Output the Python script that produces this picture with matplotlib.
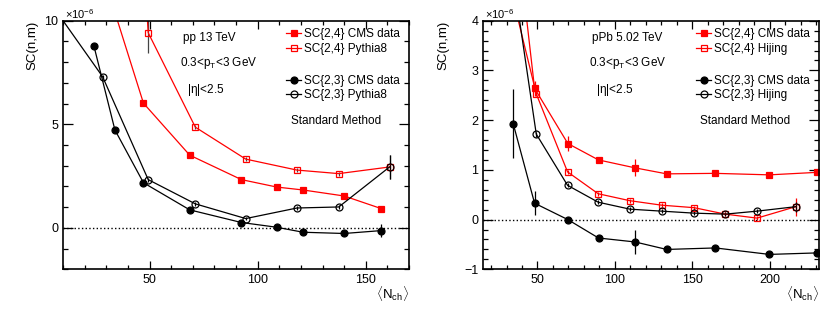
import matplotlib
matplotlib.use("Agg")
import matplotlib.pyplot as plt
from matplotlib.ticker import MultipleLocator

plt.rcParams['font.family'] = ['Liberation Sans', 'DejaVu Sans']
plt.rcParams['mathtext.fontset'] = 'custom'
plt.rcParams['mathtext.rm'] = 'Liberation Sans'
plt.rcParams['mathtext.it'] = 'Liberation Sans'
plt.rcParams['mathtext.bf'] = 'Liberation Sans'

# ---- pp 13 TeV (values in units of 1e-6) ----
pp_x_cms = [24.3, 34.0, 47.2, 68.6, 92.5, 108.9, 121.0, 140.0, 157.2]
pp_sc24_cms = [20.0, 10.4, 6.02, 3.51, 2.33, 1.97, 1.83, 1.54, 0.93]
pp_sc24_cms_err = [0.3, 0.2, 0.1, 0.08, 0.07, 0.07, 0.08, 0.1, 0.12]
pp_sc23_cms = [8.78, 4.73, 2.18, 0.87, 0.26, 0.03, -0.21, -0.27, -0.13]
pp_sc23_cms_err = [0.1, 0.1, 0.08, 0.06, 0.06, 0.07, 0.08, 0.1, 0.32]
pp_x_pythia = [8.0, 28.3, 49.4, 71.2, 94.5, 118.2, 137.5, 161.0]
pp_sc24_pythia = [90.0, 45.0, 9.42, 4.86, 3.32, 2.79, 2.62, 2.94]
pp_sc24_pythia_err = [1.0, 2.0, 1.0, 0.1, 0.1, 0.1, 0.1, 0.6]
pp_sc23_pythia = [10.3, 7.3, 2.33, 1.16, 0.45, 0.96, 1.01, 2.94]
pp_sc23_pythia_err = [0.1, 0.1, 0.1, 0.08, 0.08, 0.1, 0.1, 0.6]

# ---- pPb 5.02 TeV ----
ppb_x_cms = [34.3, 48.1, 69.6, 89.4, 113.1, 133.4, 164.9, 199.8, 230.4]
ppb_sc24_cms = [6.4, 2.64, 1.53, 1.20, 1.04, 0.92, 0.93, 0.90, 0.95]
ppb_sc24_cms_err = [0.3, 0.15, 0.15, 0.05, 0.17, 0.04, 0.04, 0.04, 0.04]
ppb_sc23_cms = [1.93, 0.33, 0.0, -0.37, -0.45, -0.60, -0.57, -0.70, -0.67]
ppb_sc23_cms_err = [0.7, 0.24, 0.04, 0.04, 0.24, 0.04, 0.04, 0.04, 0.04]
ppb_x_hijing = [29.0, 49.2, 69.4, 89.2, 109.7, 130.2, 151.1, 171.3, 191.8, 216.8]
ppb_sc24_hijing = [5.1, 2.53, 0.96, 0.52, 0.38, 0.29, 0.24, 0.11, 0.03, 0.26]
ppb_sc24_hijing_err = [0.1, 0.05, 0.04, 0.04, 0.04, 0.04, 0.04, 0.04, 0.04, 0.18]
ppb_sc23_hijing = [6.0, 1.72, 0.69, 0.35, 0.21, 0.17, 0.13, 0.11, 0.17, 0.26]
ppb_sc23_hijing_err = [0.1, 0.05, 0.04, 0.04, 0.04, 0.04, 0.04, 0.04, 0.04, 0.1]

RED = '#ff0000'
FS = 8.5

fig = plt.figure(figsize=(8.3, 3.11), dpi=100)
ax1 = fig.add_axes([0.0759, 0.134, 0.4169, 0.7994])
ax2 = fig.add_axes([0.5823, 0.134, 0.4048, 0.7994])


def draw(ax, series, xlim, ylim, ymaj, ymin, info, legx):
    handles = []
    labels = []
    for x, y, e, c, ec, m, filled, lab in series:
        h = ax.errorbar(x, y, yerr=e, color=c, ecolor=ec, marker=m, ms=5,
                        mfc=c if filled else 'none', mec=c, mew=0.9,
                        lw=0.9, elinewidth=0.9, capsize=0)
        # legend shows line + marker only
        handles.append(h.lines[0])
        labels.append(lab)
    ax.axhline(0, color='black', ls=':', lw=1.0)
    ax.set_xlim(*xlim)
    ax.set_ylim(*ylim)
    ax.xaxis.set_major_locator(MultipleLocator(50))
    ax.xaxis.set_minor_locator(MultipleLocator(10))
    ax.yaxis.set_major_locator(MultipleLocator(ymaj))
    ax.yaxis.set_minor_locator(MultipleLocator(ymin))
    ax.tick_params(which='both', direction='in', top=True, right=True,
                   labelsize=9, width=0.9)
    ax.tick_params(axis='y', which='major', length=7)
    ax.tick_params(axis='y', which='minor', length=3.5)
    ax.tick_params(axis='x', which='major', length=6)
    ax.tick_params(axis='x', which='minor', length=3)
    for s in ax.spines.values():
        s.set_linewidth(1.2)
    ax.text(0.005, 1.0, r'$\times$10$^{-6}$', transform=ax.transAxes,
            fontsize=8, ha='left', va='bottom')
    ax.text(1.0, -0.06, r'$\langle$N$_{\rm ch}\rangle$', transform=ax.transAxes,
            fontsize=9.5, ha='right', va='top')
    ax.text(info[0], 0.93, info[1], transform=ax.transAxes, fontsize=FS,
            ha='left', va='center')
    ax.text(info[0] - 0.008, 0.83, r'0.3<p$_{\rm T}$<3 GeV', transform=ax.transAxes,
            fontsize=FS, ha='left', va='center')
    ax.text(info[0] + 0.012, 0.72, r'|$\eta$|<2.5', transform=ax.transAxes,
            fontsize=FS, ha='left', va='center')
    ax.text(legx + 0.145, 0.598, 'Standard Method', transform=ax.transAxes,
            fontsize=FS, ha='center', va='center')
    kw = dict(frameon=False, fontsize=FS, handlelength=1.3, handletextpad=0.2,
              labelspacing=0.2, borderpad=0, borderaxespad=0, loc='center left')
    leg1 = ax.legend(handles[:2], labels[:2], bbox_to_anchor=(legx, 0.9163), **kw)
    ax.add_artist(leg1)
    ax.legend(handles[2:], labels[2:], bbox_to_anchor=(legx, 0.7293), **kw)


draw(ax1, [
    (pp_x_cms, pp_sc24_cms, pp_sc24_cms_err, RED, RED, 's', True, 'SC{2,4} CMS data'),
    (pp_x_pythia, pp_sc24_pythia, pp_sc24_pythia_err, RED, '#444444', 's', False, 'SC{2,4} Pythia8'),
    (pp_x_cms, pp_sc23_cms, pp_sc23_cms_err, 'black', 'black', 'o', True, 'SC{2,3} CMS data'),
    (pp_x_pythia, pp_sc23_pythia, pp_sc23_pythia_err, 'black', 'black', 'o', False, 'SC{2,3} Pythia8'),
], (10, 170), (-2, 10), 5, 1, (0.346, 'pp 13 TeV'), 0.6445)

draw(ax2, [
    (ppb_x_cms, ppb_sc24_cms, ppb_sc24_cms_err, RED, RED, 's', True, 'SC{2,4} CMS data'),
    (ppb_x_hijing, ppb_sc24_hijing, ppb_sc24_hijing_err, RED, RED, 's', False, 'SC{2,4} Hijing'),
    (ppb_x_cms, ppb_sc23_cms, ppb_sc23_cms_err, 'black', 'black', 'o', True, 'SC{2,3} CMS data'),
    (ppb_x_hijing, ppb_sc23_hijing, ppb_sc23_hijing_err, 'black', 'black', 'o', False, 'SC{2,3} Hijing'),
], (15, 232), (-1, 4), 1, 0.2, (0.323, 'pPb 5.02 TeV'), 0.633)

ax1.text(-0.087, 1.0, 'SC(n,m)', transform=ax1.transAxes, rotation=90,
         fontsize=9.5, ha='center', va='top')
ax2.text(-0.12, 1.0, 'SC(n,m)', transform=ax2.transAxes, rotation=90,
         fontsize=9.5, ha='center', va='top')

fig.savefig('out.png', dpi=100)
